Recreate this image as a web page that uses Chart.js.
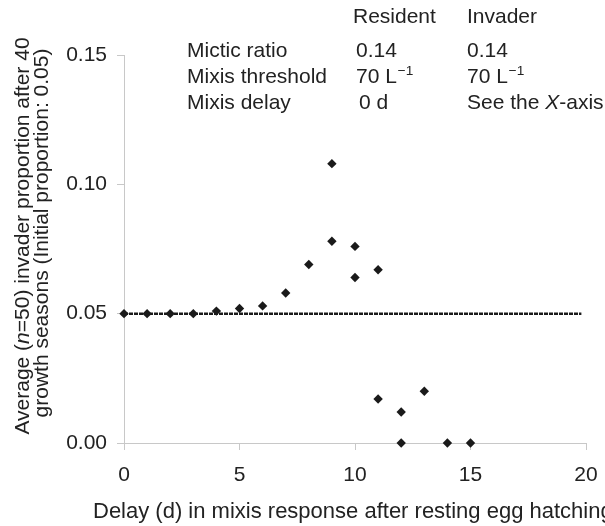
<!DOCTYPE html>
<html>
<head>
<meta charset="utf-8">
<script src="https://cdn.jsdelivr.net/npm/chart.js@4"></script>
<style>
  body { margin: 0; background: #fff; }
</style>
</head>
<body>
<canvas id="delayChart" width="605" height="526"></canvas>
<script>
// 侵入者の割合（40シーズン後）
var delayDays = [0, 1, 2, 3, 4, 5, 6, 7, 8, 9, 9, 10, 10, 11, 11, 12, 12, 13, 14, 15];
var invaderProportion = [0.050, 0.050, 0.050, 0.050, 0.051, 0.052, 0.053, 0.058, 0.069, 0.078,
    0.108, 0.076, 0.064, 0.067, 0.017, 0.012, 0.000, 0.020, 0.000, 0.000];

// 初期割合の線
var initialLineX = [0, 19.8];
var initialLineY = [0.05, 0.05];

var xTicks = [0, 5, 10, 15, 20];
var yTicks = [0, 0.05, 0.10, 0.15];

var tableHeader = ['Resident', 'Invader'];
var tableLabels = ['Mictic ratio', 'Mixis threshold', 'Mixis delay'];
var residentValues = ['0.14', '70 L^\u22121', '0 d'];
var invaderValues = ['0.14', '70 L^\u22121', 'See the *X*-axis'];

var FONT = '"Liberation Sans", Arial, Helvetica, sans-serif';
var TEXT = '#222';

// "^" = superscript, "*...*" = italic
function parseRich(str) {
    var parts = [];
    var m = str.split('^');
    var italic = false;
    m[0].split('*').forEach(function (s, i) {
        if (i > 0) italic = !italic;
        if (s) parts.push({ t: s, i: italic });
    });
    if (m[1]) parts.push({ t: m[1], sup: true });
    return parts;
}

function richWidth(ctx, parts, size) {
    var w = 0;
    parts.forEach(function (p) {
        ctx.font = (p.i ? 'italic ' : '') + (p.sup ? size * 0.65 : size) + 'px ' + FONT;
        w += ctx.measureText(p.t).width;
    });
    return w;
}

function drawRich(ctx, str, x, y, size) {
    var parts = parseRich(str);
    parts.forEach(function (p) {
        ctx.font = (p.i ? 'italic ' : '') + (p.sup ? size * 0.65 : size) + 'px ' + FONT;
        ctx.fillText(p.t, x + (p.sup ? 1 : 0), p.sup ? y - size * 0.4 : y);
        x += ctx.measureText(p.t).width + (p.sup ? 1 : 0);
    });
}

var textPlugin = {
    id: 'textPlugin',
    afterDraw: function (chart) {
        var ctx = chart.ctx;
        ctx.save();
        ctx.fillStyle = TEXT;
        ctx.textAlign = 'left';
        ctx.textBaseline = 'alphabetic';

        // 表
        drawRich(ctx, tableHeader[0], 353, 23, 21);
        drawRich(ctx, tableHeader[1], 467, 23, 21);
        var rowY = [57, 83, 109];
        for (var i = 0; i < tableLabels.length; i++) {
            drawRich(ctx, tableLabels[i], 187, rowY[i], 21);
            drawRich(ctx, residentValues[i], i == 2 ? 359 : 356, rowY[i], 21);
            drawRich(ctx, invaderValues[i], 467, rowY[i], 21);
        }

        // 軸タイトル
        drawRich(ctx, 'Delay (d) in mixis response after resting egg hatching', 93, 518, 22);

        var lines = [
            { s: 'Average (*n*=50) invader proportion after 40', x: 29, y: 236 },
            { s: 'growth seasons (Initial proportion: 0.05)', x: 48, y: 233 }
        ];
        lines.forEach(function (l) {
            var w = richWidth(ctx, parseRich(l.s), 21);
            ctx.save();
            ctx.translate(l.x, l.y);
            ctx.rotate(-Math.PI / 2);
            drawRich(ctx, l.s, -w / 2, 0, 21);
            ctx.restore();
        });
        ctx.restore();
    }
};

var points = delayDays.map(function (d, i) {
    return { x: d, y: invaderProportion[i] };
});
var linePoints = initialLineX.map(function (d, i) {
    return { x: d, y: initialLineY[i] };
});

var config = {
    type: 'scatter',
    data: {
        datasets: [{
            label: 'Invader proportion',
            data: points,
            pointStyle: 'rectRot',
            pointRadius: 4.7,
            pointBackgroundColor: '#1a1a1a',
            pointBorderColor: '#1a1a1a',
            pointBorderWidth: 0,
            clip: false,
            order: 1
        }, {
            label: 'Initial proportion',
            type: 'line',
            data: linePoints,
            borderColor: '#1a1a1a',
            borderWidth: 2.5,
            borderDash: [4, 1],
            pointRadius: 0,
            order: 2
        }]
    },
    options: {
        responsive: false,
        animation: false,
        layout: { padding: { top: 55, right: 19, left: 0, bottom: 0 } },
        plugins: {
            legend: { display: false },
            tooltip: { enabled: false }
        },
        scales: {
            x: {
                type: 'linear',
                min: 0,
                max: 20,
                afterBuildTicks: function (scale) {
                    scale.ticks = xTicks.map(function (v) { return { value: v }; });
                },
                afterFit: function (scale) {
                    scale.height = 83;
                    scale.paddingLeft = 0;
                    scale.paddingRight = 0;
                },
                grid: { drawOnChartArea: false, color: '#c8c8c8', tickLength: 7 },
                border: { color: '#c8c8c8' },
                ticks: {
                    color: TEXT,
                    padding: 13,
                    maxRotation: 0,
                    font: { family: FONT, size: 21 }
                }
            },
            y: {
                type: 'linear',
                min: 0,
                max: 0.15,
                afterBuildTicks: function (scale) {
                    scale.ticks = yTicks.map(function (v) { return { value: v }; });
                },
                afterFit: function (scale) { scale.width = 124; },
                grid: { drawOnChartArea: false, color: '#c8c8c8', tickLength: 7 },
                border: { color: '#c8c8c8' },
                ticks: {
                    color: TEXT,
                    padding: 10,
                    font: { family: FONT, size: 21 },
                    callback: function (v) { return v.toFixed(2); }
                }
            }
        }
    },
    plugins: [textPlugin]
};

var delayChart = new Chart(document.getElementById('delayChart'), config);
</script>
</body>
</html>
